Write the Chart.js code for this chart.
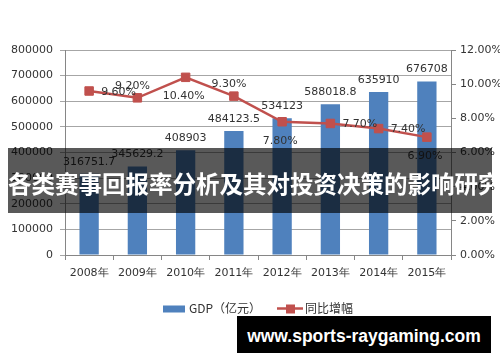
<!DOCTYPE html>
<html>
<head>
<meta charset="utf-8">
<script src="https://cdn.jsdelivr.net/npm/chart.js@4"></script>
<style>
  body { margin: 0; background: #fff; }
  #wrap { position: relative; width: 500px; height: 362px; overflow: hidden; }
  #banner {
    position: absolute; left: 8px; top: 148px; width: 484px; height: 65px;
    background: rgba(0, 0, 0, 0.65); color: #fff;
    font: bold 23.5px "Noto Sans CJK SC", sans-serif;
    line-height: 70px; text-align: center; white-space: nowrap; overflow: hidden;
  }
  #mark {
    position: absolute; left: 237px; top: 316px; width: 254px; height: 37px;
    background: #000; color: #fff;
    font: bold 17.5px "Liberation Sans", sans-serif;
    line-height: 40px; text-align: center; white-space: nowrap;
  }
</style>
</head>
<body>
<div id="wrap">
  <canvas id="grafik" width="500" height="362"></canvas>
  <div id="banner">各类赛事回报率分析及其对投资决策的影响研究</div>
  <div id="mark">www.sports-raygaming.com</div>
</div>
<script>
const tahun = ["2008年", "2009年", "2010年", "2011年", "2012年", "2013年", "2014年", "2015年"];
const gdp = [316751.7, 345629.2, 408903, 484123.5, 534123, 588018.8, 635910, 676708];
const zengfu = [9.6, 9.2, 10.4, 9.3, 7.8, 7.7, 7.4, 6.9];
const gdpMax = 800000, gdpStep = 100000;
const pctMax = 12, pctStep = 2;

const FONT = "DejaVu Sans";
const TEXT = "#333";

// posisi label garis (mirip Excel)
const posisiLabel = ["right", "above", "below", "above", "below", "right", "right", "below"];

const labelPlugin = {
  id: "labelData",
  afterDatasetsDraw(chart) {
    const ctx = chart.ctx;
    ctx.save();
    ctx.font = "11px " + FONT;
    ctx.fillStyle = TEXT;
    ctx.textBaseline = "middle";

    // label batang
    const barMeta = chart.getDatasetMeta(0);
    barMeta.data.forEach((el, i) => {
      ctx.textAlign = "center";
      ctx.fillText(String(gdp[i]), el.x, el.y - 12);
    });

    // label garis
    const lineMeta = chart.getDatasetMeta(1);
    lineMeta.data.forEach((el, i) => {
      const txt = zengfu[i].toFixed(2) + "%";
      const pos = posisiLabel[i];
      if (pos === "right") {
        ctx.textAlign = "left";
        ctx.fillText(txt, el.x + 12, el.y + 1);
      } else if (pos === "above") {
        ctx.textAlign = "center";
        ctx.fillText(txt, el.x - 5, el.y - 12);
      } else {
        ctx.textAlign = "center";
        ctx.fillText(txt, el.x - 2, el.y + 19);
      }
    });
    ctx.restore();
  },
};

const legendPlugin = {
  id: "legendaBawah",
  afterDraw(chart) {
    const ctx = chart.ctx;
    const ds = chart.data.datasets;
    const y = 308.5;
    ctx.save();
    ctx.font = "12px 'Noto Sans CJK SC'";
    ctx.fillStyle = TEXT;
    ctx.textBaseline = "middle";
    ctx.textAlign = "left";

    ctx.fillStyle = ds[0].backgroundColor;
    ctx.fillRect(163, y - 3, 22, 7);
    ctx.fillStyle = TEXT;
    ctx.fillText(ds[0].label, 189, y);

    ctx.strokeStyle = ds[1].borderColor;
    ctx.lineWidth = 2.5;
    ctx.beginPath();
    ctx.moveTo(277, y);
    ctx.lineTo(303, y);
    ctx.stroke();
    ctx.fillStyle = ds[1].borderColor;
    ctx.fillRect(286, y - 4, 9, 9);
    ctx.fillStyle = TEXT;
    ctx.fillText(ds[1].label, 305, y);
    ctx.restore();
  },
};

const ctx = document.getElementById("grafik").getContext("2d");
new Chart(ctx, {
  data: {
    labels: tahun,
    datasets: [
      {
        type: "bar",
        label: "GDP（亿元）",
        data: gdp,
        backgroundColor: "#4f81bd",
        barPercentage: 0.4,
        categoryPercentage: 1,
        yAxisID: "y",
        order: 1,
      },
      {
        type: "line",
        label: "同比增幅",
        data: zengfu,
        borderColor: "#c0504d",
        backgroundColor: "#c0504d",
        borderWidth: 2.5,
        pointStyle: "rect",
        pointRadius: 6,
        pointBorderWidth: 1,
        tension: 0,
        yAxisID: "y1",
        order: 0,
      },
    ],
  },
  options: {
    responsive: false,
    animation: false,
    events: [],
    layout: { padding: { top: 50, left: 0, right: 0, bottom: 0 } },
    plugins: {
      legend: { display: false },
      tooltip: { enabled: false },
    },
    scales: {
      x: {
        afterFit: (s) => { s.height = 107; },
        grid: { offset: true, drawOnChartArea: false, tickLength: 5, color: "#868686" },
        border: { color: "#868686" },
        ticks: { color: TEXT, font: { family: FONT, size: 11 }, padding: 7, maxRotation: 0 },
      },
      y: {
        position: "left",
        min: 0,
        max: gdpMax,
        afterFit: (s) => { s.width = 65; },
        ticks: {
          stepSize: gdpStep,
          color: TEXT,
          font: { family: FONT, size: 11 },
          padding: 7,
          callback: (v) => String(v),
        },
        grid: { color: "#a6a6a6", tickLength: 5 },
        border: { color: "#868686" },
      },
      y1: {
        position: "right",
        min: 0,
        max: pctMax,
        afterFit: (s) => { s.width = 49; },
        ticks: {
          stepSize: pctStep,
          color: TEXT,
          font: { family: FONT, size: 11 },
          padding: 4,
          callback: (v) => v.toFixed(2) + "%",
        },
        grid: { drawOnChartArea: false, color: "#868686", tickLength: 5 },
        border: { color: "#868686" },
      },
    },
  },
  plugins: [labelPlugin, legendPlugin],
});
</script>
</body>
</html>
